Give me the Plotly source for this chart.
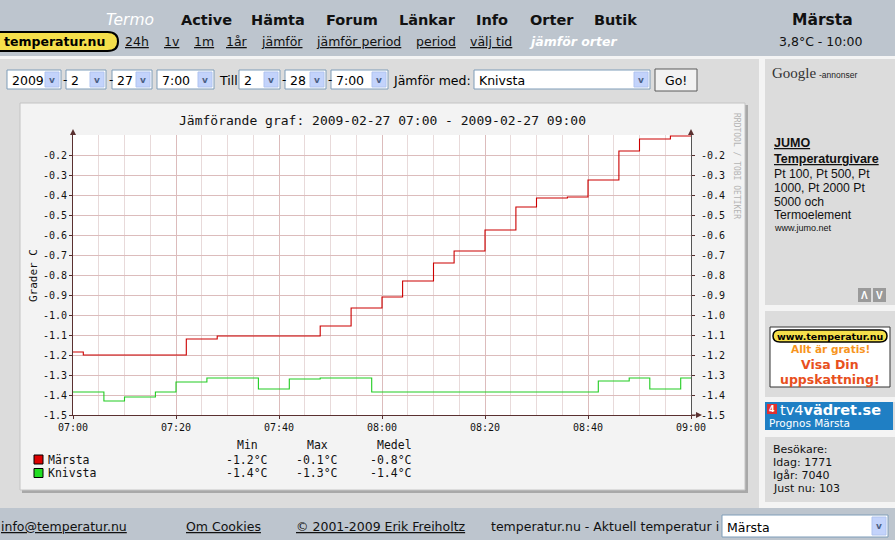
import plotly.graph_objects as go

# Märsta / Knivsta, 2009-02-27 07:00 - 09:00
DATE = "2009-02-27"
MARSTA_TIME = ["07:00", "07:02", "07:22", "07:28", "07:48", "07:54", "08:00", "08:04", "08:10",
               "08:14", "08:20", "08:26", "08:30", "08:36", "08:40", "08:46", "08:50", "08:56", "09:00"]
MARSTA_TEMP = [-1.185, -1.20, -1.12, -1.105, -1.055, -0.965, -0.91, -0.83, -0.74,
               -0.68, -0.575, -0.46, -0.415, -0.41, -0.325, -0.18, -0.12, -0.105, -0.105]
KNIVSTA_TIME = ["07:00", "07:06", "07:10", "07:16", "07:20", "07:26", "07:36", "07:42", "07:48",
                "07:58", "08:42", "08:48", "08:52", "08:58", "09:00"]
KNIVSTA_TEMP = [-1.385, -1.43, -1.41, -1.385, -1.335, -1.315, -1.37, -1.32, -1.315,
                -1.385, -1.33, -1.315, -1.37, -1.315, -1.315]

STAT_LABELS = ["Min", "Max", "Medel"]
MARSTA_STATS = [-1.2, -0.1, -0.8]
KNIVSTA_STATS = [-1.4, -1.3, -1.4]
Y_TICKS = [-1.5, -1.4, -1.3, -1.2, -1.1, -1.0, -0.9, -0.8, -0.7, -0.6, -0.5, -0.4, -0.3, -0.2]

NAV_ITEMS = ["Active", "Hämta", "Forum", "Länkar", "Info", "Orter", "Butik"]
SUB_LINKS = ["24h", "1v", "1m", "1år", "jämför", "jämför period", "period", "välj tid"]
VISITORS = ["Besökare:", "Idag: 1771", "Igår: 7040", "Just nu: 103"]
AD_LINES = ["Pt 100, Pt 500, Pt", "1000, Pt 2000 Pt", "5000 och", "Termoelement"]

W, H = 895, 540
SANS = "DejaVu Sans"
MONO = "DejaVu Sans Mono"
ARIAL = "Liberation Sans"
BAND = "#bdc5ce"
PAGE = "#dcdcdc"

shapes = []
annotations = []


def px(x):
    return x / W


def py(y):
    return 1 - y / H


def box(x0, y0, x1, y1, fill, line=None, width=0):
    shapes.append(dict(type="rect", xref="paper", yref="paper", layer="below",
                       x0=px(x0), x1=px(x1), y0=py(y1), y1=py(y0),
                       fillcolor=fill, line=dict(color=line or fill, width=width)))


def pill(x0, y0, x1, y1, fill, width):
    # rounded ends drawn with quadratic curves
    r = (y1 - y0) / 2
    pts = [("M", x0 + r, y0), ("L", x1 - r, y0), ("Q", x1 + 1, y0, x1 + 1, y0 + r),
           ("Q", x1 + 1, y1, x1 - r, y1), ("L", x0 + r, y1), ("Q", x0 - 1, y1, x0 - 1, y0 + r),
           ("Q", x0 - 1, y0, x0 + r, y0)]
    path = ""
    for p in pts:
        coords = [f"{px(p[i])},{py(p[i + 1])}" for i in range(1, len(p), 2)]
        path += p[0] + " " + " ".join(coords) + " "
    shapes.append(dict(type="path", xref="paper", yref="paper", layer="below", path=path + "Z",
                       fillcolor=fill, line=dict(color="black", width=width)))


def label(x, y, text, size=12, color="black", family=SANS, anchor="left", angle=0):
    annotations.append(dict(xref="paper", yref="paper", x=px(x), y=py(y), text=text,
                            showarrow=False, xanchor=anchor, yanchor="middle", borderpad=0,
                            textangle=angle, font=dict(family=family, size=size, color=color)))


def tri(points, color):
    path = "M " + " L ".join(f"{px(a)},{py(b)}" for a, b in points) + " Z"
    shapes.append(dict(type="path", xref="paper", yref="paper", path=path, layer="above",
                       fillcolor=color, line=dict(color=color, width=0)))


def select(x0, x1, y0, y1, text):
    box(x0, y0, x1, y1, "white", "#7f9db9", 1)
    box(x1 - 16, y0 + 2, x1 - 2, y1 - 2, "#c3d3fb", "#b0c4f0", 1)
    label(x1 - 9, (y0 + y1) / 2, "<b>v</b>", 9, "#4d6185", SANS, "center")
    label(x0 + 4, (y0 + y1) / 2 + 1, text, 12.5, "black", SANS)


# page background: header, content, footer
box(0, 0, W, 56, BAND)
box(0, 56, W, 59, "#f4f4f4")
box(0, 508, W, H, BAND)

# header menu
label(105, 20, "<i>Termo</i>", 15.5, "white")
for x, item in zip([180, 250, 325, 398, 475, 529, 593], NAV_ITEMS):
    label(x, 20, f"<b>{item}</b>", 14.5, "#111111")
pill(-12, 32, 117, 51, "#f5df4b", 2)
label(3, 41.5, "<b>temperatur.nu</b>", 12.5, "black")
for x, link in zip([124, 163, 193, 225, 260, 315, 415, 469], SUB_LINKS):
    label(x, 42, f"<u>{link}</u>", 12.5, "#111111")
label(528, 42, "<b><i>jämför orter</i></b>", 12.5, "white")
label(822, 20, "<b>Märsta</b>", 15.5, "#111111", anchor="center")
label(820, 42, "3,8°C - 10:00", 12.5, "#111111", anchor="center")

# form row
select(7, 61, 70, 89, "2009")
label(61.5, 80, "-", 12)
select(66, 106, 70, 89, "2")
label(107.5, 80, "-", 12)
select(112, 152, 70, 89, "27")
select(157, 214, 70, 89, "7:00")
label(218, 80, "Till", 12.5)
select(239, 280, 70, 89, "2")
label(280.5, 80, "-", 12)
select(285, 326, 70, 89, "28")
label(326.5, 80, "-", 12)
select(331, 388, 70, 89, "7:00")
label(392, 80, "Jämför med:", 12.5)
select(474, 650, 70, 89, "Knivsta")
box(655, 69, 697, 91, "#f2f2f2", "#5a5a5a", 1)
label(676, 80, "Go!", 12.5, "black", SANS, "center")

# graph panel
box(22, 105, 748, 493, "#a8a8a8")
box(20, 103, 745, 490, "#f3f3f3", "#c4c4c4", 1)
shapes.append(dict(type="rect", xref="x domain", yref="y domain", layer="below",
                   x0=0, x1=1, y0=0, y1=1, fillcolor="white", line=dict(width=0)))
label(382.5, 120, f"Jämförande graf: {DATE} {MARSTA_TIME[0]} - {DATE} {MARSTA_TIME[-1]}",
      13, "#111111", MONO, "center")
label(33, 276, "Grader C", 11, "#111111", MONO, "center", -90)
label(736, 166, "RRDTOOL / TOBI OETIKER", 8, "#b4b4b4", MONO, "center", 90)

# axis arrow heads
AX = "#5a3030"
tri([(70, 135), (76, 135), (73, 129)], AX)
tri([(688, 135), (694, 135), (691, 129)], AX)
shapes.append(dict(type="line", xref="paper", yref="paper", x0=px(691), x1=px(697),
                   y0=py(415), y1=py(415), line=dict(color=AX, width=1), layer="above"))
tri([(696, 412), (696, 418), (702, 415)], AX)

# legend with statistics
for x, head in zip([247, 317, 394], STAT_LABELS):
    label(x, 445, head, 11.5, "#111111", MONO, "center")
for y, name, color, stats in [(459.5, "Märsta", "#dd0000", MARSTA_STATS),
                              (473, "Knivsta", "#22dd22", KNIVSTA_STATS)]:
    box(34, y - 4.5, 43, y + 4.5, color, "black", 1)
    label(47, y, name, 11.5, "#111111", MONO)
    for x, v in zip([247, 317, 391], stats):
        label(x, y, f"{v:.1f}°C", 11.5, "#111111", MONO, "center")

# sidebar
box(759, 59, 765, 508, "#f4f4f4")
box(765, 305, W, 311, "#f4f4f4")
box(765, 397, W, 402, "#f4f4f4")
box(765, 430, W, 437, "#f4f4f4")
box(765, 502, W, 508, "#f4f4f4")
label(771, 73, "Google", 15, "#333333", "Liberation Serif")
label(818, 75, "-annonser", 8.5, "#222222", ARIAL)
label(773, 143, "<b><u>JUMO</u></b>", 12.5, "#111111", ARIAL)
label(773, 158.5, "<b><u>Temperaturgivare</u></b>", 12.5, "#111111", ARIAL)
for i, line in enumerate(AD_LINES):
    label(773, 174 + i * 13.8, line, 12.2, "#111111", ARIAL)
label(773, 228, "www.jumo.net", 9, "#111111", ARIAL)
box(858, 288, 871, 302, "#9a9a9a")
box(873, 288, 886, 302, "#9a9a9a")
label(864.5, 295, "<b>Λ</b>", 10, "white", ARIAL, "center")
label(879.5, 295, "<b>V</b>", 10, "white", ARIAL, "center")

box(770, 327, 890, 387, "white", "#333333", 1)
pill(774, 330, 886, 342, "#f5df4b", 1.5)
label(830, 336, "<b>www.temperatur.nu</b>", 9.5, "black", SANS, "center")
label(830, 349, "<b>Allt är gratis!</b>", 10.5, "#f7941d", SANS, "center")
label(830, 364, "<b>Visa Din</b>", 12.5, "#e8501e", SANS, "center")
label(830, 379, "<b>uppskattning!</b>", 12.5, "#e8501e", SANS, "center")

box(765, 402, 893, 430, "#1f7fc4")
box(767, 404, 777, 414, "#e03030")
label(772, 409.5, "<b>4</b>", 8, "white", SANS, "center")
label(779, 410, "tv4<b>vädret.se</b>", 14.5, "white", SANS)
label(768, 423, "Prognos Märsta", 10.5, "white", SANS)

for i, line in enumerate(VISITORS):
    label(772, 449 + i * 13, line, 11, "#111111", SANS)

# footer
label(0, 526, "<u>info@temperatur.nu</u>", 12.5, "#111111")
label(185, 526, "<u>Om Cookies</u>", 12.5, "#111111")
label(295, 526, "<u>© 2001-2009 Erik Freiholtz</u>", 12.5, "#111111")
label(490, 526, "temperatur.nu - Aktuell temperatur i", 12.5, "#111111")
select(722, 888, 515, 537, "Märsta")

fig = go.Figure()
fig.add_trace(go.Scatter(x=[f"{DATE} {t}" for t in MARSTA_TIME], y=MARSTA_TEMP,
                         mode="lines", line=dict(color="#cc0000", width=1.1, shape="hv"),
                         name="Märsta", hoverinfo="skip"))
fig.add_trace(go.Scatter(x=[f"{DATE} {t}" for t in KNIVSTA_TIME], y=KNIVSTA_TEMP, yaxis="y2",
                         mode="lines", line=dict(color="#22cc22", width=1.1, shape="hv"),
                         name="Knivsta", hoverinfo="skip"))

tick_text = [f"{v:.1f}" for v in Y_TICKS]
y_common = dict(range=[-1.5, -0.1], tickvals=Y_TICKS, ticktext=tick_text, showline=True,
                ticks="outside", ticklen=3, tickcolor=AX, zeroline=False, fixedrange=True,
                automargin=False, tickfont=dict(family=MONO, size=10, color="#111111"))

fig.update_layout(
    template="none",
    width=W, height=H, margin=dict(l=0, r=0, t=0, b=0, pad=0, autoexpand=False),
    paper_bgcolor=PAGE, plot_bgcolor="white", showlegend=False,
    shapes=shapes, annotations=annotations,
    xaxis=dict(domain=[px(73), px(691)], type="date", automargin=False,
               range=[f"{DATE} 07:00", f"{DATE} 09:00"],
               tick0=f"{DATE} 07:00", dtick=20 * 60 * 1000, tickformat="%H:%M",
               showgrid=True, gridcolor="#dcbcbc", gridwidth=1,
               minor=dict(dtick=5 * 60 * 1000, showgrid=True, gridcolor="#e8dada", gridwidth=1),
               showline=True, linecolor=AX, ticks="outside", ticklen=3, tickcolor=AX,
               tickfont=dict(family=MONO, size=10, color="#111111"), fixedrange=True),
    yaxis=dict(domain=[py(415), py(135)], showgrid=True, gridcolor="#dcbcbc", gridwidth=1,
               linecolor=AX, **y_common),
    yaxis2=dict(overlaying="y", side="right", anchor="x", showgrid=False,
                linecolor="#555555", ticklabelstandoff=4, **y_common),
)

# the page body has a default 8px margin; drop it so the figure fills the window
fig.write_html("out.html", config={"displayModeBar": False},
               post_script="document.body.style.margin = '0';")
